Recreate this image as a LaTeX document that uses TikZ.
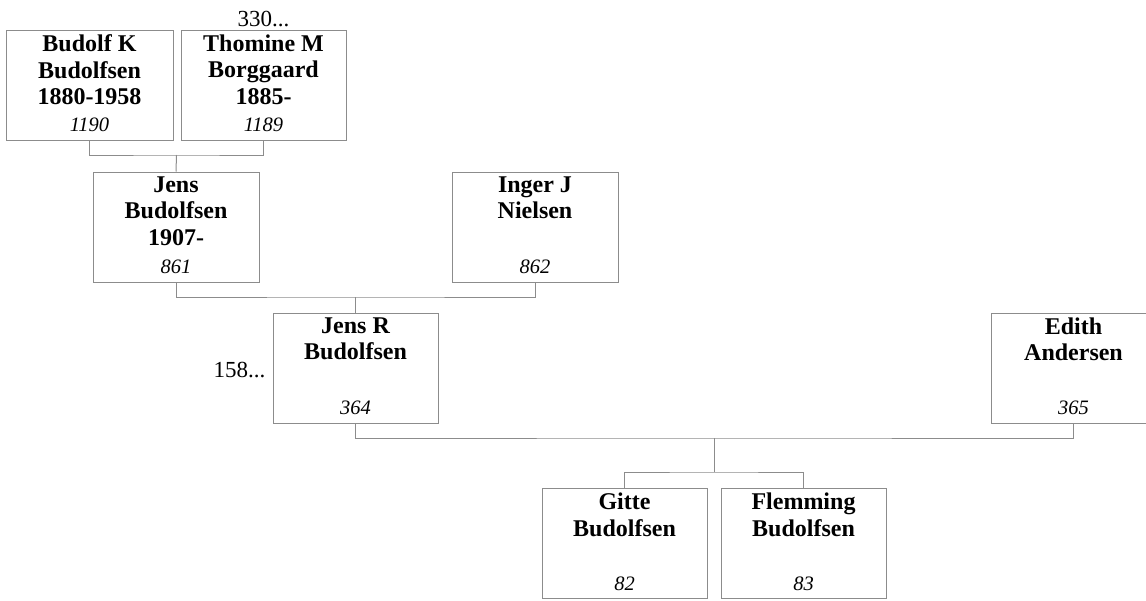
\documentclass[tikz,border=0pt]{standalone}
\usepackage{fontspec}
\setmainfont{Liberation Serif}
\begin{document}
\begin{tikzpicture}[x=1pt,y=-1pt,
  pbox/.style={draw=black!45,line width=1pt,minimum width=166pt,minimum height=110pt,inner sep=0pt},
  nm/.style={anchor=north,inner sep=0pt,align=center,font=\fontsize{24}{26.5}\selectfont\bfseries,yshift=-5pt},
  num/.style={anchor=base,inner sep=0pt,font=\fontsize{20.5}{23}\selectfont\itshape,yshift=9pt},
  more/.style={inner sep=0pt,font=\fontsize{23}{26}\selectfont},
  link/.style={draw=black!45,line width=1pt}]
\useasboundingbox (0,0) rectangle (1146,600);
\clip (0,0) rectangle (1146,600);
% boxes
\node[pbox,minimum width=167pt] (b1) at (89.5,85) {};
\node[pbox,minimum width=165pt] (b2) at (263.5,85) {};
\node[pbox] (b3) at (176,227) {};
\node[pbox] (b4) at (535,227) {};
\node[pbox,minimum width=165pt] (b5) at (355.5,368) {};
\node[pbox,minimum width=165pt] (b6) at (1073.5,368) {};
\node[pbox,minimum width=165pt] (b7) at (624.5,543.5) {};
\node[pbox,minimum width=165pt] (b8) at (803.5,543.5) {};
% texts
\node[nm] (t1) at (b1.north) {Budolf K\\Budolfsen\\1880-1958};
\node[num] (n1) at (b1.south) {1190};
\node[nm] (t2) at (b2.north) {Thomine M\\Borggaard\\1885-};
\node[num] (n2) at (b2.south) {1189};
\node[nm] (t3) at (b3.north) {Jens\\Budolfsen\\1907-};
\node[num] (n3) at (b3.south) {861};
\node[nm] (t4) at (b4.north) {Inger J\\Nielsen};
\node[num] (n4) at (b4.south) {862};
\node[nm] (t5) at (b5.north) {Jens R\\Budolfsen};
\node[num] (n5) at (b5.south) {364};
\node[nm] (t6) at (b6.north) {Edith\\Andersen};
\node[num] (n6) at (b6.south) {365};
\node[nm] (t7) at (b7.north) {Gitte\\Budolfsen};
\node[num] (n7) at (b7.south) {82};
\node[nm] (t8) at (b8.north) {Flemming\\Budolfsen};
\node[num] (n8) at (b8.south) {83};
\node[more,anchor=base] (m2) at ([yshift=3pt]b2.north) {330...};
\node[more,anchor=base east] (m5) at ([xshift=-7pt,yshift=-9pt]b5.west) {158...};
% connectors
\coordinate (j1) at (176.5,155);
\coordinate (j2) at (355.5,297);
\coordinate (j3) at (714,438);
\coordinate (j4) at (714,472);
\draw[link] (b1.south) |- (j1) -| (b2.south);
\draw[link] (j1) -- (b3.north);
\draw[link] (b3.south) |- (j2) -| (b4.south);
\draw[link] (j2) -- (b5.north);
\draw[link] (b5.south) |- (j3) -| (b6.south);
\draw[link] (j3) -- (j4);
\draw[link] (b7.north) |- (j4) -| (b8.north);
\end{tikzpicture}
\end{document}
